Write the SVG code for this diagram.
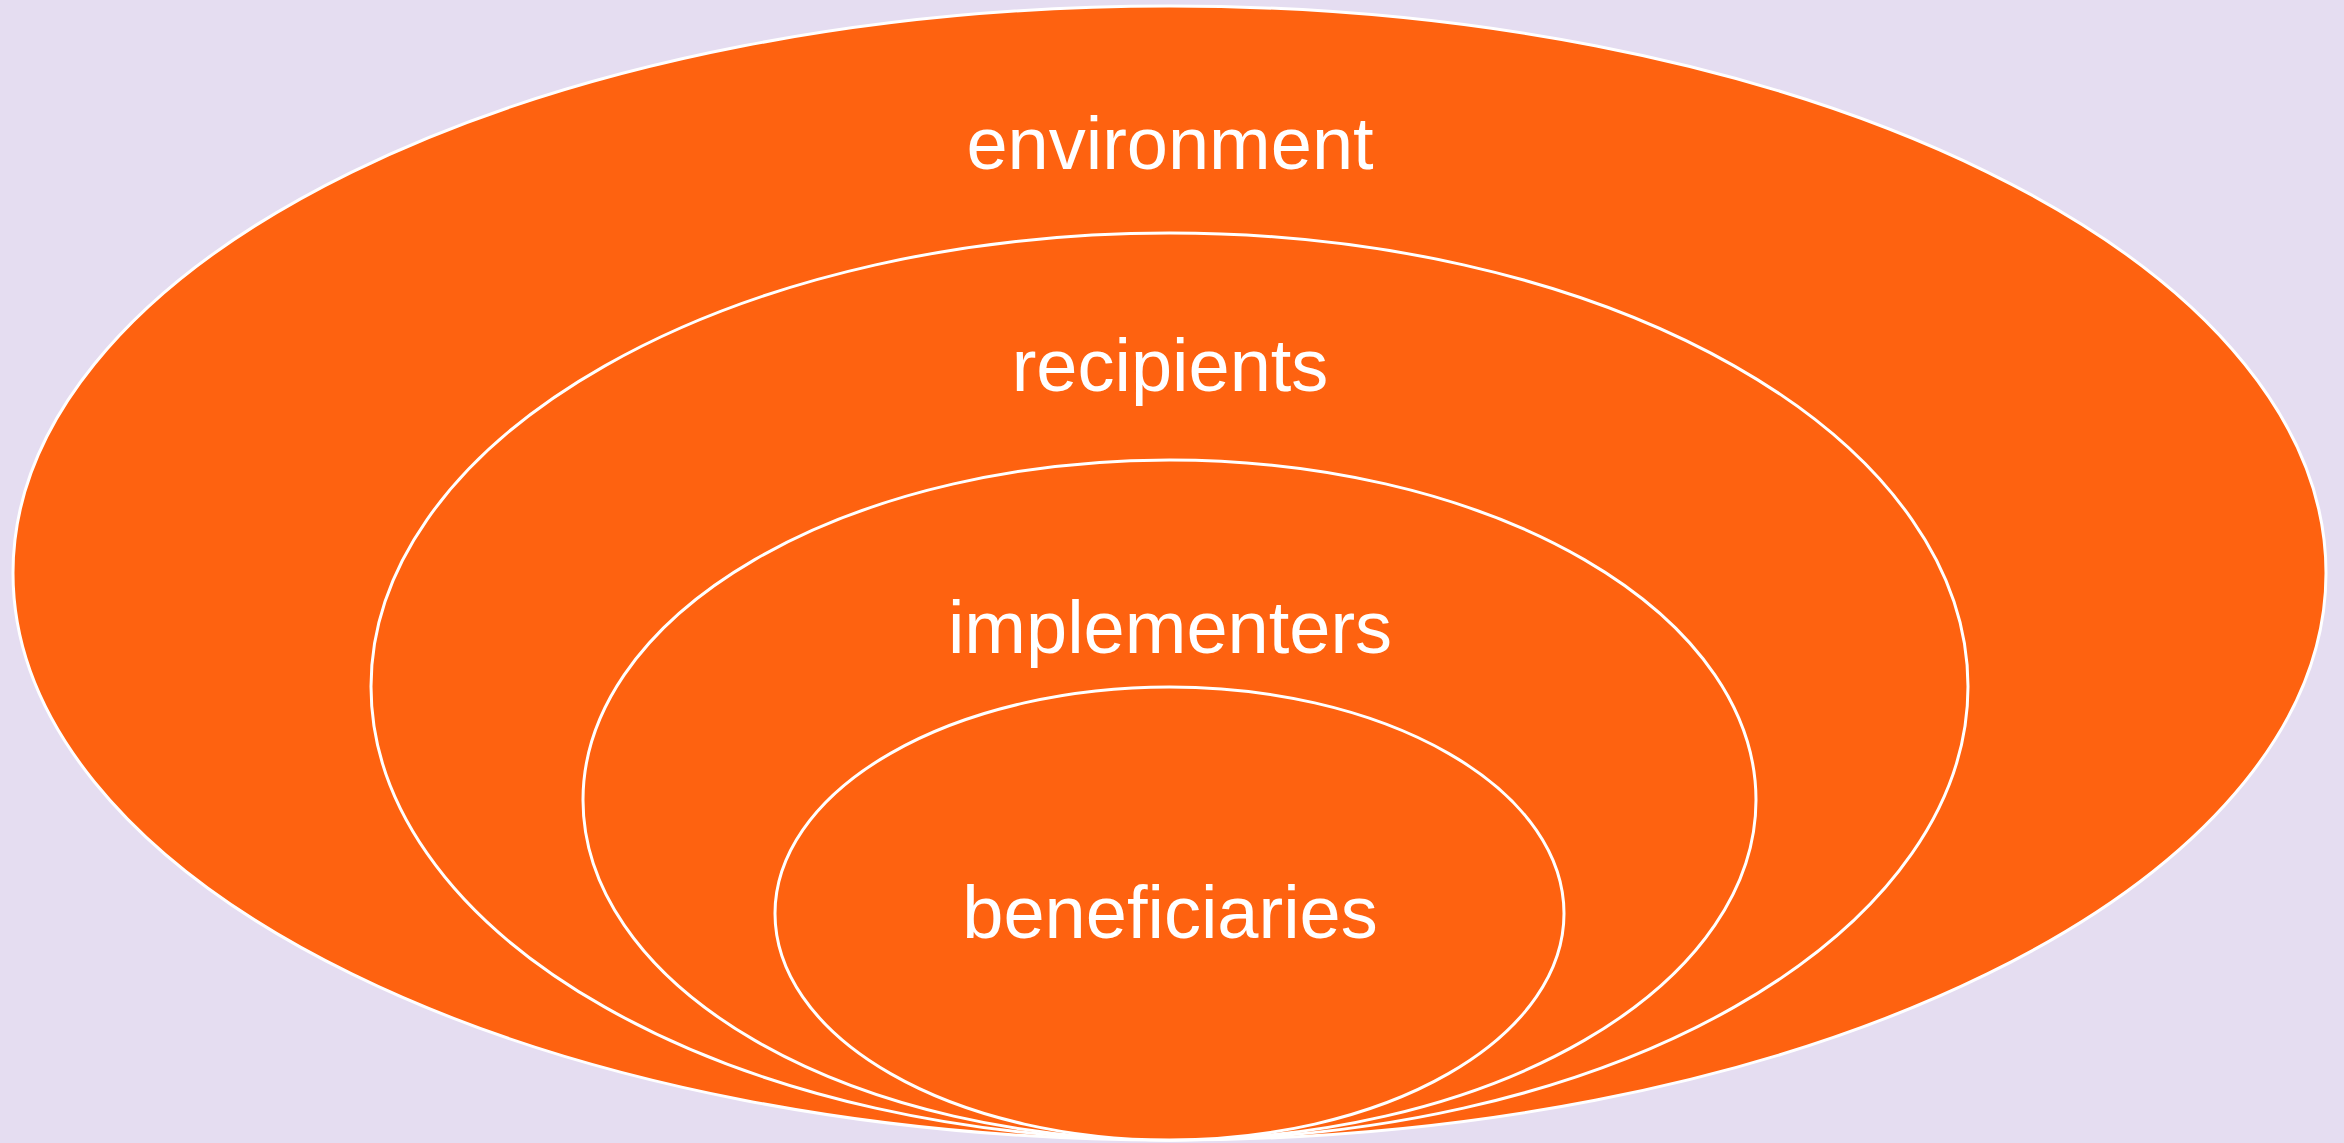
<svg xmlns="http://www.w3.org/2000/svg" width="2344" height="1143" viewBox="0 0 2344 1143">
<style>
.ring{fill:#FE6210;stroke:#FFFFFF;stroke-width:3}
.lbl{font-family:"Liberation Sans",Arial,sans-serif;font-size:74px;fill:#FFFFFF;text-anchor:middle}
</style>
<rect x="0" y="0" width="2344" height="1143" fill="#E5DDF1"/>
<g id="environment">
<ellipse class="ring" cx="1169.5" cy="573" rx="1156.5" ry="567"/>
<text class="lbl" x="1170" y="169">environment</text>
</g>
<g id="recipients">
<ellipse class="ring" cx="1169.5" cy="686.5" rx="798.5" ry="453.5"/>
<text class="lbl" x="1170" y="391">recipients</text>
</g>
<g id="implementers">
<ellipse class="ring" cx="1169.5" cy="800" rx="586.5" ry="340"/>
<text class="lbl" x="1170" y="653">implementers</text>
</g>
<g id="beneficiaries">
<ellipse class="ring" cx="1169.5" cy="913.5" rx="394.5" ry="226.5"/>
<text class="lbl" x="1170" y="938">beneficiaries</text>
</g>
<g id="connectors"/>
</svg>
